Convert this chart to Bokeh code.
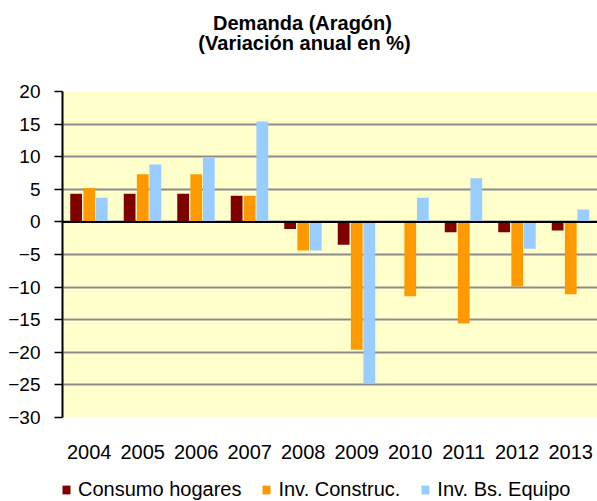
from bokeh.plotting import figure
from bokeh.layouts import column
from bokeh.models import FactorRange, FixedTicker, Span, Legend, LegendItem, ColumnDataSource, Range1d, Label
from bokeh.transform import dodge
from bokeh.embed import file_html
from bokeh.resources import INLINE

years = ["2004", "2005", "2006", "2007", "2008", "2009", "2010", "2011", "2012", "2013"]
consumo = [4.3, 4.3, 4.3, 4.0, -1.1, -3.5, 0.0, -1.6, -1.6, -1.3]
construc = [5.2, 7.3, 7.3, 4.0, -4.4, -19.6, -11.4, -15.6, -9.9, -11.1]
equipo = [3.7, 8.8, 9.9, 15.4, -4.4, -24.8, 3.7, 6.7, -4.1, 1.9]
y_ticks = [-30, -25, -20, -15, -10, -5, 0, 5, 10, 15, 20]
labels = ["Consumo hogares", "Inv. Construc.", "Inv. Bs. Equipo"]
colors = ["#800000", "#FF9900", "#99CCFF"]
title_lines = ["Demanda (Aragón)", "(Variación anual en %)"]

src = ColumnDataSource(dict(year=years, consumo=consumo, construc=construc, equipo=equipo))

FONT = "Liberation Sans"

# ---- title row (frame is aligned with main plot frame: x from 62 to 597) ----
tf = figure(width=597, height=60, output_backend="svg", toolbar_location=None,
            x_range=Range1d(0, 535), y_range=Range1d(0, 60), x_axis_type=None, y_axis_type=None,
            min_border_left=0, min_border_right=0, min_border_top=0, min_border_bottom=0)
tf.outline_line_color = None
tf.xgrid.grid_line_color = None
tf.ygrid.grid_line_color = None
for txt, ty, tx in [(title_lines[0], 38, 240), (title_lines[1], 18, 242)]:
    tf.add_layout(Label(x=tx, y=ty, text=txt, text_align="center", text_baseline="middle",
                        text_font=FONT, text_font_size="20px", text_font_style="bold",
                        text_color="black"))

# ---- main plot ----
p = figure(x_range=FactorRange(*years, range_padding=0), y_range=(-30, 20),
           width=597, height=406, output_backend="svg", toolbar_location=None,
           min_border_left=62, min_border_right=0, min_border_top=31, min_border_bottom=49)
p.background_fill_color = "#FFFFCC"
p.border_fill_color = "white"
p.outline_line_color = None

w = 0.22
r1 = p.vbar(x=dodge("year", -0.245, range=p.x_range), top="consumo", bottom=0, width=w, source=src,
            color=colors[0], line_color=None)
r2 = p.vbar(x=dodge("year", 0.0, range=p.x_range), top="construc", bottom=0, width=w, source=src,
            color=colors[1], line_color=None)
r3 = p.vbar(x=dodge("year", 0.235, range=p.x_range), top="equipo", bottom=0, width=w, source=src,
            color=colors[2], line_color=None)

p.add_layout(Span(location=0, dimension="width", line_color="black", line_width=2))

p.yaxis.ticker = FixedTicker(ticks=y_ticks)
p.yaxis.axis_line_color = "black"
p.yaxis.axis_line_width = 2
p.yaxis.major_tick_line_color = "black"
p.yaxis.major_tick_line_width = 1.5
p.yaxis.major_tick_out = 8
p.yaxis.major_tick_in = 0
p.yaxis.minor_tick_line_color = None
p.yaxis.major_label_text_font = FONT
p.yaxis.major_label_text_font_size = "19px"
p.yaxis.major_label_text_color = "black"
p.yaxis.major_label_standoff = 14

p.xaxis.axis_line_color = None
p.xaxis.major_tick_line_color = None
p.xaxis.minor_tick_line_color = None
p.xaxis.major_label_text_font = FONT
p.xaxis.major_label_text_font_size = "20px"
p.xaxis.major_label_text_color = "black"
p.xaxis.major_label_standoff = 21

p.xgrid.grid_line_color = None
p.ygrid.ticker = FixedTicker(ticks=y_ticks)
p.ygrid.grid_line_color = "#8c8c8c"
p.ygrid.grid_line_width = 2

# ---- legend row ----
lf = figure(width=597, height=35, output_backend="svg", toolbar_location=None,
            x_range=Range1d(0, 1), y_range=Range1d(0, 1), x_axis_type=None, y_axis_type=None,
            min_border_left=0, min_border_right=0, min_border_top=0, min_border_bottom=0)
lf.outline_line_color = None
lf.xgrid.grid_line_color = None
lf.ygrid.grid_line_color = None
swatch = ColumnDataSource(dict(x=[0], top=[0]))  # zero-size proxy glyphs for the legend swatches
lr = [lf.vbar(x="x", top="top", bottom=0, width=0, source=swatch, color=c, line_color=None) for c in colors]

legend = Legend(items=[LegendItem(label=labels[i], renderers=[lr[i]]) for i in range(3)],
                orientation="horizontal", location=(-1, 0))
legend.label_text_font = FONT
legend.label_text_font_size = "20px"
legend.label_text_color = "black"
legend.glyph_width = 10
legend.glyph_height = 11
legend.label_standoff = 7
legend.spacing = 20
legend.padding = 0
legend.margin = 0
legend.border_line_color = None
legend.background_fill_alpha = 0
lf.add_layout(legend)

open("out.html", "w").write(file_html(column(tf, p, lf, spacing=0), INLINE))
